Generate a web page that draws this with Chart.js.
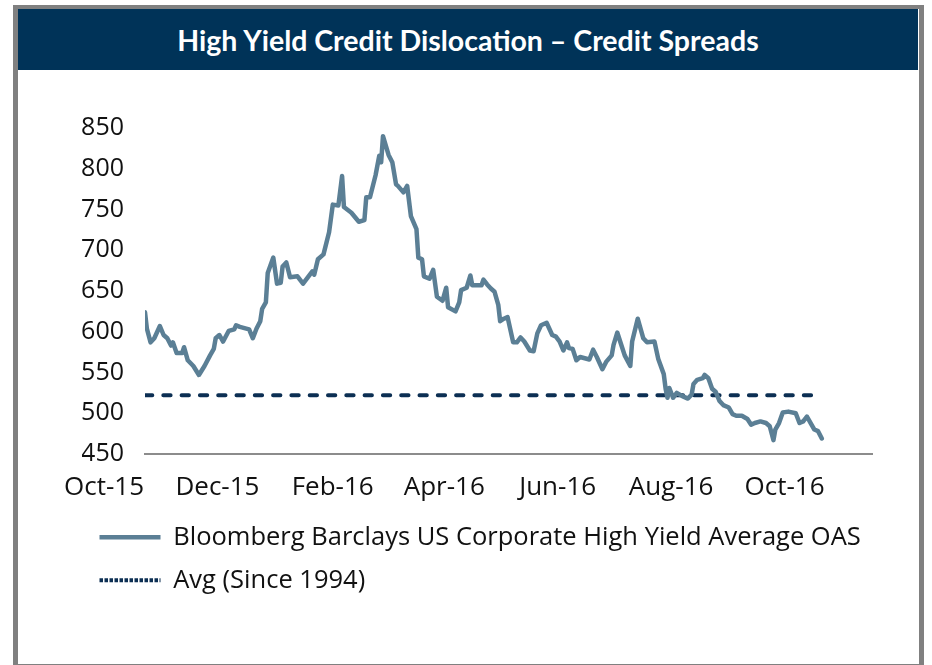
<!DOCTYPE html>
<html>
<head>
<meta charset="utf-8">
<title>High Yield Credit Dislocation – Credit Spreads</title>
<script src="https://cdn.jsdelivr.net/npm/chart.js"></script>
<style>
  html, body { margin: 0; padding: 0; background: #fff; }
  body { width: 932px; height: 665px; position: relative; overflow: hidden; }
  .frame {
    position: absolute; left: 13px; top: 5px; width: 911px; height: 664px;
    box-sizing: border-box; border: 5px solid #808080; border-top-width: 4px;
  }
  .header {
    position: absolute; left: 18px; top: 9px; width: 900px; height: 61px;
    background: #003358; color: #fff; font: bold 28.5px Lato, sans-serif;
    display: flex; align-items: center; justify-content: center;
  }
  .chart-box { position: absolute; left: 0; top: 70px; width: 932px; height: 595px; }
</style>
</head>
<body>
<div class="frame"></div>
<div class="header">High Yield Credit Dislocation – Credit Spreads</div>
<div class="chart-box"><canvas id="chart"></canvas></div>

<script>
  // x values are days counted from 1 Oct 2015
  var tickDays = [0, 61, 123, 183, 244, 305, 366];
  var tickLabels = ["Oct-15", "Dec-15", "Feb-16", "Apr-16", "Jun-16", "Aug-16", "Oct-16"];

  var days = [
    0, 1, 3, 5, 8, 10, 12, 14, 15, 17,
    20, 21, 23, 26, 29, 32, 35, 37, 38, 40,
    42, 45, 48, 49, 51, 56, 58, 60, 62, 63,
    65, 66, 69, 71, 73, 74, 76, 78, 82, 85,
    90, 91, 93, 96, 99, 101, 104, 106, 107, 111,
    115, 118, 119, 121, 124, 126, 127, 128, 131, 133,
    135, 136, 139, 141, 143, 146, 147, 149, 150, 153,
    155, 157, 160, 162, 163, 167, 169, 170, 173, 175,
    176, 181, 182, 184, 186, 188, 190, 191, 193, 195,
    198, 200, 202, 204, 207, 209, 211, 213, 216, 219,
    221, 223, 225, 227, 228, 230, 232, 234, 239, 241,
    243, 246, 248, 251, 252, 254, 256, 258, 261, 262,
    265, 268, 270, 274, 276, 279, 280, 281, 282, 284,
    286, 289, 292, 294, 295, 297, 300, 301, 303, 305,
    307, 309, 311, 314, 316, 318, 321, 324, 326, 328,
    331, 334, 336, 338, 339, 341, 343, 346, 350, 352,
    354, 356, 358, 360, 362, 364
  ];

  // Bloomberg Barclays US Corporate High Yield Average OAS (bps)
  var oas = [
    624, 604, 587, 592, 607, 596, 592, 583, 587, 574,
    574, 581, 565, 558, 547, 558, 571, 579, 592, 596,
    588, 601, 603, 608, 606, 603, 592, 604, 613, 628,
    636, 672, 691, 659, 660, 680, 685, 667, 668, 659,
    674, 670, 689, 695, 722, 756, 755, 791, 753, 746,
    735, 737, 765, 765, 792, 816, 808, 840, 817, 808,
    781, 779, 771, 779, 742, 726, 691, 689, 668, 665,
    676, 643, 638, 654, 630, 625, 636, 651, 654, 669,
    657, 657, 664, 658, 653, 649, 633, 613, 616, 618,
    587, 587, 593, 588, 577, 576, 598, 608, 611, 596,
    594, 588, 577, 587, 580, 579, 565, 569, 566, 578,
    569, 554, 563, 571, 584, 599, 585, 571, 558, 588,
    616, 592, 587, 588, 567, 548, 530, 519, 531, 519,
    525, 521, 518, 523, 536, 541, 543, 547, 543, 530,
    526, 515, 510, 507, 499, 497, 497, 493, 486, 488,
    490, 488, 484, 467, 480, 488, 501, 502, 500, 488,
    490, 496, 488, 480, 478, 469
  ];

  // long-run average since 1994
  var avgLevel = 522;
  var avgDays = [0, 364];

  var fontFamily = "'Open Sans', sans-serif";
  var textColor = "#111";

  var chartConfig = {
    type: "line",
    data: {
      datasets: [{
        label: "Bloomberg Barclays US Corporate High Yield Average OAS",
        data: days.map(function (d, i) { return { x: d, y: oas[i] }; }),
        borderColor: "#5b7f95",
        backgroundColor: "#5b7f95",
        borderWidth: 4.5,
        borderJoinStyle: "round",
        borderCapStyle: "round",
        pointRadius: 0,
        tension: 0
      }, {
        label: "Avg (Since 1994)",
        data: avgDays.map(function (d) { return { x: d, y: avgLevel }; }),
        borderColor: "#0c2f53",
        backgroundColor: "#0c2f53",
        borderWidth: 4,
        borderDash: [7.3, 11],
        borderCapStyle: "round",
        pointRadius: 0
      }]
    },
    options: {
      responsive: true,
      maintainAspectRatio: false,
      animation: false,
      layout: { padding: { left: 82, right: 60, top: 58, bottom: 62 } },
      plugins: {
        tooltip: { enabled: false },
        legend: {
          position: "bottom",
          align: "start",
          labels: {
            usePointStyle: true,
            pointStyle: "line",
            pointStyleWidth: 61,
            padding: 17.5,
            color: textColor,
            font: { family: fontFamily, size: 25.5 },
            generateLabels: function (chart) {
              var items = Chart.defaults.plugins.legend.labels.generateLabels(chart);
              // the average line shows as a fine dotted stroke in the key
              items[1].lineDash = [3.5, 1.5];
              items[1].lineCap = "butt";
              return items;
            }
          }
        }
      },
      scales: {
        x: {
          type: "linear",
          min: 0,
          max: 391,
          grid: { display: false, drawTicks: false },
          border: { display: true, color: "#8c8c8c", width: 2 },
          afterBuildTicks: function (scale) {
            scale.ticks = tickDays.map(function (v) { return { value: v }; });
          },
          afterFit: function (scale) { scale.height = 53; },
          ticks: {
            autoSkip: false,
            maxRotation: 0,
            labelOffset: -41,
            padding: 18,
            color: textColor,
            font: { family: fontFamily, size: 26 },
            callback: function (v) { return tickLabels[tickDays.indexOf(v)]; }
          }
        },
        y: {
          min: 450,
          max: 850,
          grid: { display: false, drawTicks: false },
          border: { display: false },
          afterFit: function (scale) { scale.width = 63; },
          ticks: {
            stepSize: 50,
            padding: 21,
            color: textColor,
            font: { family: fontFamily, size: 25 }
          }
        }
      }
    }
  };

  var ctx = document.getElementById("chart").getContext("2d");
  var chart = new Chart(ctx, chartConfig);
</script>
</body>
</html>
